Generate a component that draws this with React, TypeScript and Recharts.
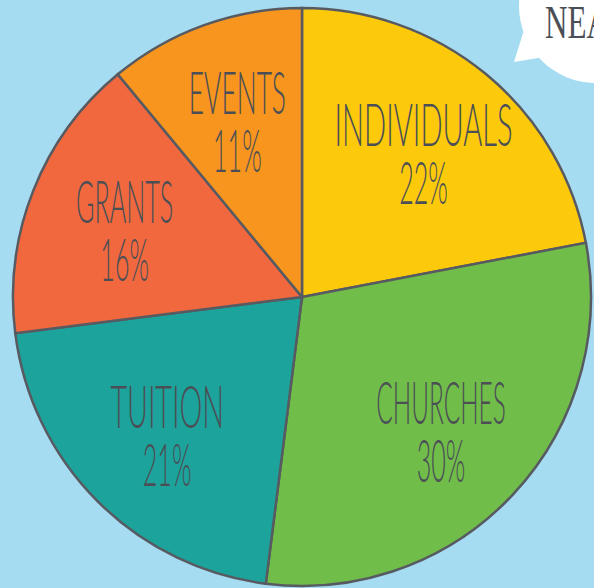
import React from 'react';
import { PieChart, Pie, Cell } from 'recharts';

const sources = ['INDIVIDUALS', 'CHURCHES', 'TUITION', 'GRANTS', 'EVENTS'];
const shares = [22, 30, 21, 16, 11];
const colors = ['#fdca0b', '#70bd4a', '#1ca39c', '#f1683f', '#f7951e'];

const data = sources.map((name, i) => ({ name, value: shares[i] }));

const RADIAN = Math.PI / 180;
const INK = '#4b4f55';
const CHAR_W = 16.2;

const renderLabel = (props: any) => {
  const { cx, cy, midAngle, outerRadius, name, value } = props;
  const r = outerRadius * 0.66;
  const x = cx + r * Math.cos(-midAngle * RADIAN);
  const y = cy + r * Math.sin(-midAngle * RADIAN);
  const pct = `${value}%`;
  const common = {
    fill: INK,
    textAnchor: 'middle' as const,
    fontFamily: 'Lato, sans-serif',
    fontWeight: 300,
    fontSize: 60,
    lengthAdjust: 'spacingAndGlyphs' as const,
  };
  return (
    <g>
      <text x={x} y={y - 4} textLength={name.length * CHAR_W} {...common}>{name}</text>
      <text x={x} y={y + 54} textLength={pct.length * CHAR_W} {...common}>{pct}</text>
    </g>
  );
};

export default function App() {
  return (
    <div style={{ position: 'absolute', left: 0, top: 0, width: 594, height: 588, background: '#a6dcf2', overflow: 'hidden' }}>
      <svg width={594} height={588} style={{ position: 'absolute', left: 0, top: 0 }}>
        <circle cx={596} cy={6} r={77} fill="#ffffff" />
        <polygon points="524,30 514,62 550,56" fill="#ffffff" />
        <text x={545} y={38} fill={INK} fontFamily="'Liberation Serif', serif" fontSize={46} textLength={64} lengthAdjust="spacingAndGlyphs">NEA</text>
      </svg>
      <div style={{ position: 'absolute', left: 0, top: 0 }}>
        <PieChart width={594} height={588} margin={{ top: 0, right: 0, bottom: 0, left: 0 }}>
          <Pie
            data={data}
            dataKey="value"
            nameKey="name"
            cx={302}
            cy={297}
            outerRadius={289}
            startAngle={90}
            endAngle={-270}
            stroke="#575b61"
            strokeWidth={2.5}
            label={renderLabel}
            labelLine={false}
            isAnimationActive={false}
          >
            {data.map((d, i) => (
              <Cell key={d.name} fill={colors[i]} />
            ))}
          </Pie>
        </PieChart>
      </div>
    </div>
  );
}
